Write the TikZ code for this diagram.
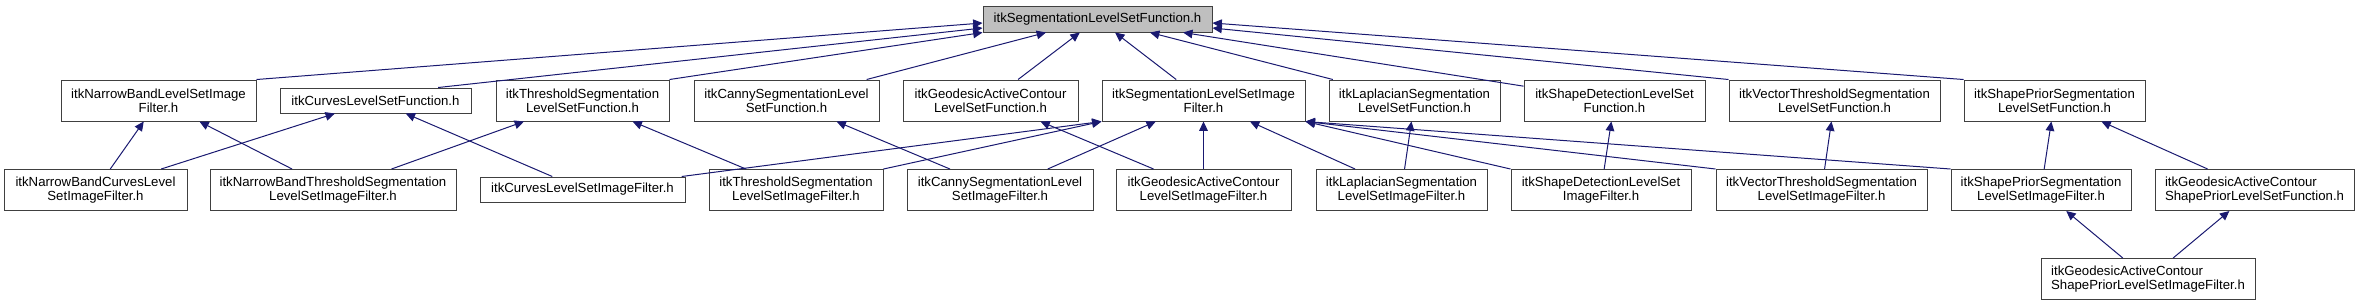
\documentclass[tikz,border=0pt]{standalone}
\usepackage{fontspec}
\setmainfont{Liberation Sans}
\usetikzlibrary{arrows.meta}
\definecolor{edgenavy}{RGB}{25,25,112}
\definecolor{boxline}{RGB}{64,64,64}
\definecolor{rootgray}{RGB}{191,191,191}
\tikzset{
  basebox/.style={rectangle,draw=boxline,line width=0.75pt,fill=white,align=center,inner sep=0pt,
                  font=\fontsize{9.9}{10.7}\selectfont},
  filenode/.style={basebox,minimum height=30.75pt},
  flatnode/.style={basebox,minimum height=18.75pt},
  rootnode/.style={basebox,fill=rootgray,minimum height=19.5pt},
  leftnode/.style={filenode,align=left},
  boxw/.style={minimum width=#1*0.75pt},
  arr/.style={<-,>={Triangle[length=7pt,width=6.5pt]},line width=0.75pt,color=edgenavy}
}

\begin{document}
\begin{tikzpicture}[x=0.75pt,y=-0.75pt]
  \useasboundingbox (0,0) rectangle (2359,305);

  %% Root header
  \node[rootnode,boxw=229] (root) at (1097.5,19) {itkSegmentationLevelSetFunction.h};

  %% First level
  \node[filenode,boxw=195] (nbls) at (158.5,100.5) {itkNarrowBandLevelSetImage\\Filter.h};
  \node[flatnode,boxw=191] (clsf) at (375.5,100.5) {itkCurvesLevelSetFunction.h};
  \node[filenode,boxw=173] (thlsf) at (582.5,100.5) {itkThresholdSegmentation\\LevelSetFunction.h};
  \node[filenode,boxw=185] (canlsf) at (786.5,100.5) {itkCannySegmentationLevel\\SetFunction.h};
  \node[filenode,boxw=175] (gaclsf) at (990.5,100.5) {itkGeodesicActiveContour\\LevelSetFunction.h};
  \node[filenode,boxw=203] (seglsif) at (1203.5,100.5) {itkSegmentationLevelSetImage\\Filter.h};
  \node[filenode,boxw=171] (laplsf) at (1414.5,100.5) {itkLaplacianSegmentation\\LevelSetFunction.h};
  \node[filenode,boxw=181] (sdlsf) at (1614.5,100.5) {itkShapeDetectionLevelSet\\Function.h};
  \node[filenode,boxw=211] (vtlsf) at (1834.5,100.5) {itkVectorThresholdSegmentation\\LevelSetFunction.h};
  \node[filenode,boxw=181] (splsf) at (2054.5,100.5) {itkShapePriorSegmentation\\LevelSetFunction.h};

  %% Second level
  \node[filenode,boxw=183] (nbclsif) at (95.5,190) {itkNarrowBandCurvesLevel\\SetImageFilter.h};
  \node[filenode,boxw=246] (nbtlsif) at (333,190) {itkNarrowBandThresholdSegmentation\\LevelSetImageFilter.h};
  \node[flatnode,boxw=205] (clsif) at (582.5,189.5) {itkCurvesLevelSetImageFilter.h};
  \node[filenode,boxw=174] (thlsif) at (796,190) {itkThresholdSegmentation\\LevelSetImageFilter.h};
  \node[filenode,boxw=186] (canlsif) at (1000,190) {itkCannySegmentationLevel\\SetImageFilter.h};
  \node[filenode,boxw=175] (gaclsif) at (1203.5,190) {itkGeodesicActiveContour\\LevelSetImageFilter.h};
  \node[filenode,boxw=171] (laplsif) at (1401.5,190) {itkLaplacianSegmentation\\LevelSetImageFilter.h};
  \node[filenode,boxw=180] (sdlsif) at (1601,190) {itkShapeDetectionLevelSet\\ImageFilter.h};
  \node[filenode,boxw=211] (vtlsif) at (1821.5,190) {itkVectorThresholdSegmentation\\LevelSetImageFilter.h};
  \node[filenode,boxw=180] (splsif) at (2041,190) {itkShapePriorSegmentation\\LevelSetImageFilter.h};
  \node[leftnode,boxw=199] (gacsplsf) at (2254.5,190) {itkGeodesicActiveContour\\ShapePriorLevelSetFunction.h};

  %% Third level
  \node[leftnode,boxw=214] (gacsplsif) at (2148,279) {itkGeodesicActiveContour\\ShapePriorLevelSetImageFilter.h};

  %% ── ARROWS ──────────────────────────────────────────────
  %% root <- first level
  \draw[arr] ([yshift=-3pt]root.west) -- (nbls.north east);
  \draw[arr] ([yshift=-6.75pt]root.west) -- ([xshift=-25pt]clsf.north east);
  \draw[arr] (root.south west) -- (thlsf.north east);
  \draw[arr] (root) -- (canlsf);
  \draw[arr] (root) -- (gaclsf);
  \draw[arr] (root) -- (seglsif);
  \draw[arr] (root) -- (laplsf);
  \draw[arr] (root) -- (sdlsf);
  \draw[arr] ([yshift=-6.75pt]root.east) -- (vtlsf.north west);
  \draw[arr] ([yshift=-3pt]root.east) -- (splsf.north west);

  %% narrow band / curves / threshold
  \draw[arr] (nbls) -- (nbclsif);
  \draw[arr] (nbls) -- (nbtlsif);
  \draw[arr] (clsf) -- (nbclsif);
  \draw[arr] (clsf) -- (clsif);
  \draw[arr] (thlsf) -- (nbtlsif);
  \draw[arr] (thlsf) -- (thlsif);
  \draw[arr] (canlsf) -- (canlsif);
  \draw[arr] (gaclsf) -- (gaclsif);

  %% segmentation image filter <- filters
  \draw[arr] (seglsif.south west) -- (clsif);
  \draw[arr] (seglsif.south west) -- (thlsif.north east);
  \draw[arr] (seglsif) -- (canlsif);
  \draw[arr] (seglsif) -- (gaclsif);
  \draw[arr] (seglsif) -- (laplsif);
  \draw[arr] (seglsif.south east) -- (sdlsif.north west);
  \draw[arr] (seglsif.south east) -- (vtlsif.north west);
  \draw[arr] (seglsif.south east) -- (splsif.north west);

  %% functions <- image filters
  \draw[arr] (laplsf) -- (laplsif);
  \draw[arr] (sdlsf) -- (sdlsif);
  \draw[arr] (vtlsf) -- (vtlsif);
  \draw[arr] (splsf) -- (splsif);
  \draw[arr] (splsf) -- (gacsplsf);

  %% shape prior
  \draw[arr] (splsif) -- (gacsplsif);
  \draw[arr] (gacsplsf) -- (gacsplsif);

\end{tikzpicture}
\end{document}
